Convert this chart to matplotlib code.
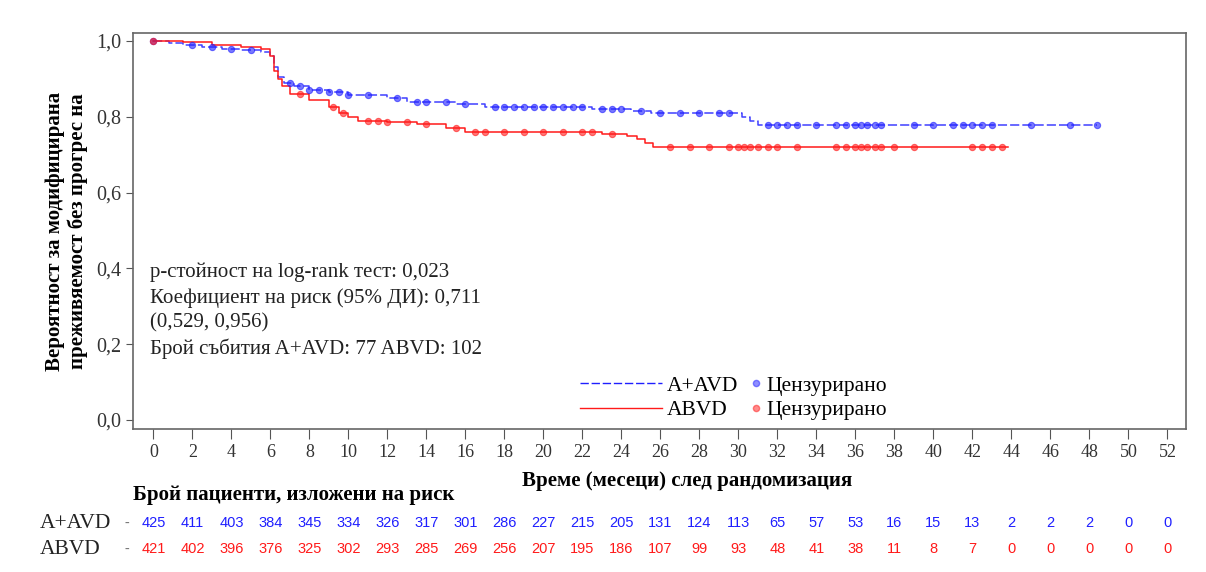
import numpy as np
import matplotlib
matplotlib.use("Agg")
import matplotlib.pyplot as plt
from matplotlib.lines import Line2D
from matplotlib.transforms import blended_transform_factory

plt.rcParams['font.family'] = ['Liberation Serif', 'DejaVu Serif']

# Kaplan-Meier steps
blue_t = [0, 0.8, 1.5, 2.5, 3.5, 4.5, 5.5, 6.0, 6.2, 6.4, 6.7, 7.2, 8.0, 9.0,
          10.0, 12.0, 13.0, 15.5, 17.0, 22.5, 24.5, 25.5, 30.2, 30.6, 31.0, 48.4]
blue_s = [1.0, 0.995, 0.99, 0.985, 0.98, 0.975, 0.97, 0.96, 0.93, 0.905, 0.89,
          0.88, 0.87, 0.865, 0.858, 0.85, 0.84, 0.833, 0.827, 0.82, 0.815, 0.81,
          0.80, 0.79, 0.778, 0.778]
red_t = [0, 1.5, 3.0, 4.5, 5.5, 6.0, 6.2, 6.4, 6.6, 7.0, 8.0, 9.0, 9.5, 10.0,
         10.5, 12.0, 13.5, 15.0, 16.0, 23.0, 24.3, 24.8, 25.2, 25.6, 43.8]
red_s = [1.0, 0.997, 0.99, 0.985, 0.98, 0.96, 0.92, 0.90, 0.88, 0.86, 0.845,
         0.825, 0.81, 0.80, 0.79, 0.785, 0.78, 0.77, 0.76, 0.755, 0.75, 0.74,
         0.73, 0.72, 0.72]

# censored observations (approximate times)
blue_cens = [0, 2, 3, 4, 5, 7, 7.5, 8, 8.5, 9, 9.5, 10, 11, 12.5, 13.5, 14, 15,
             16, 17.5, 18, 18.5, 19, 19.5, 20, 20.5, 21, 21.5, 22, 23, 23.5, 24,
             25, 26, 27, 28, 29, 29.5, 31.5, 32, 32.5, 33, 34, 35, 35.5, 36,
             36.3, 36.6, 37, 37.3, 39, 40, 41, 41.5, 42, 42.5, 43, 45, 47, 48.4]
red_cens = [0, 7.5, 9.2, 9.7, 11, 11.5, 12, 13, 14, 15.5, 16.5, 17, 18, 19, 20,
            21, 22, 22.5, 23.5, 26.5, 27.5, 28.5, 29.5, 30, 30.3, 30.6, 31, 31.5,
            32, 33, 35, 35.5, 36, 36.3, 36.6, 37, 37.3, 38, 39, 42, 42.5, 43, 43.5]

months = list(range(0, 54, 2))
risk_a = [425, 411, 403, 384, 345, 334, 326, 317, 301, 286, 227, 215, 205, 131,
          124, 113, 65, 57, 53, 16, 15, 13, 2, 2, 2, 0, 0]
risk_b = [421, 402, 396, 376, 325, 302, 293, 285, 269, 256, 207, 195, 186, 107,
          99, 93, 48, 41, 38, 11, 8, 7, 0, 0, 0, 0, 0]

blue = '#1f1fff'
red = '#ff1a1a'


def surv_at(times, t, s):
    idx = np.searchsorted(t, times, side='right') - 1
    return np.array(s)[idx]


fig = plt.figure(figsize=(12.06, 5.72), dpi=100)
ax = fig.add_axes([0.1103, 0.25, 0.8731, 0.6923])

ax.step(blue_t, blue_s, where='post', color=blue, lw=1.1, ls=(0, (6, 2)), alpha=0.85)
ax.step(red_t, red_s, where='post', color=red, lw=1.1)
ax.plot(blue_cens, surv_at(blue_cens, blue_t, blue_s), 'o', ms=4.5,
        color=blue, alpha=0.6, mew=0.8)
ax.plot(red_cens, surv_at(red_cens, red_t, red_s), 'o', ms=4.5,
        color=red, alpha=0.6, mew=0.8)

ax.set_xlim(-1.05, 52.95)
ax.set_ylim(-0.024, 1.021)
ax.set_xticks(months)
ax.set_yticks([0, 0.2, 0.4, 0.6, 0.8, 1.0])
ax.set_yticklabels(['0,0', '0,2', '0,4', '0,6', '0,8', '1,0'])
ax.tick_params(axis='y', labelsize=14.5, colors='#555555', labelcolor='#333333', length=5)
ax.tick_params(axis='x', labelsize=13, colors='#555555', labelcolor='#333333', length=7)
for sp in ax.spines.values():
    sp.set_color('#666666')
    sp.set_linewidth(1.2)

ax.set_ylabel('Вероятност за модифицирана\nпреживяемост без прогрес на',
              fontsize=15, fontweight='bold', labelpad=6, linespacing=1.15)
ax.set_xlabel('Време (месеци) след рандомизация', fontsize=15,
              fontweight='bold')
ax.xaxis.set_label_coords(0.526, -0.105)

ax.text(0.016, 0.298,
        'p-стойност на log-rank тест: 0,023\n'
        'Коефициент на риск (95% ДИ): 0,711\n'
        '(0,529, 0,956)\n'
        'Брой събития A+AVD: 77 ABVD: 102',
        transform=ax.transAxes, fontsize=15, va='center', ha='left',
        linespacing=1.4, color='#222222')

# legend: lines, then censor markers
h_lines = [Line2D([], [], color=blue, lw=1, ls=(0, (6, 2))),
           Line2D([], [], color=red, lw=1)]
leg1 = ax.legend(h_lines, ['A+AVD', 'ABVD'], loc='center left',
                 bbox_to_anchor=(0.406, 0.078), frameon=False, fontsize=15.5,
                 handlelength=3.8, handletextpad=0.25, labelspacing=0.2)
ax.add_artist(leg1)
h_marks = [Line2D([], [], color=blue, marker='o', ls='', ms=4.5, alpha=0.5),
           Line2D([], [], color=red, marker='o', ls='', ms=4.5, alpha=0.5)]
ax.legend(h_marks, ['Цензурирано', 'Цензурирано'], loc='center left',
          bbox_to_anchor=(0.567, 0.078), frameon=False, fontsize=15.5,
          handlelength=0.6, handletextpad=0.2, labelspacing=0.2)

# number at risk table
tr = blended_transform_factory(ax.transData, fig.transFigure)
fig.text(133 / 1206, 1 - 495 / 572, 'Брой пациенти, изложени на риск',
         fontsize=15, fontweight='bold', va='center', ha='left')
for lab, vals, col, yp in [('A+AVD', risk_a, blue, 523), ('ABVD', risk_b, red, 549)]:
    fig.text(40 / 1206, 1 - yp / 572, lab, fontsize=15.5, va='center',
             ha='left', color='#222222')
    fig.text(127 / 1206, 1 - yp / 572, '-', fontsize=10, va='center',
             ha='center', color='#777777')
    for m, v in zip(months, vals):
        fig.text(m, 1 - yp / 572, str(v), transform=tr, fontsize=10.5,
                 ha='center', va='center', color=col,
                 family=['Liberation Sans', 'DejaVu Sans'])

fig.savefig('out.png', dpi=100)
